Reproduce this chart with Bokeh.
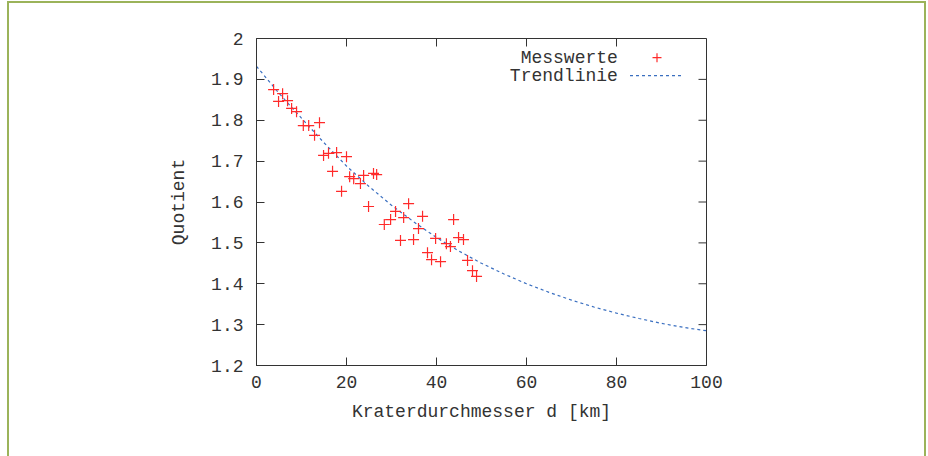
import re
from bokeh.plotting import figure
from bokeh.models import (ColumnDataSource, FixedTicker, Label,
                          CustomJSTickFormatter, Range1d, InlineStyleSheet)
from bokeh.embed import file_html
from bokeh.resources import INLINE

# ---- data ----
durchmesser = [3.8, 5.8, 4.9, 6.9, 7.8, 8.9, 10.4, 11.6, 14.0, 12.9,
               14.9, 16.0, 17.8, 20.0, 16.9, 20.7, 21.6, 23.8, 26.0, 26.7,
               23.1, 18.9, 24.9, 28.4, 29.8, 30.9, 32.7, 33.8, 36.0, 36.9,
               34.9, 32.0, 38.0, 38.9, 40.9, 39.8, 42.2, 43.1, 43.8, 44.9,
               46.0, 46.9, 48.0, 48.9]
quotient = [1.875, 1.865, 1.846, 1.848, 1.829, 1.821, 1.787, 1.787, 1.794, 1.763,
            1.714, 1.719, 1.721, 1.711, 1.675, 1.662, 1.657, 1.665, 1.670, 1.667,
            1.645, 1.626, 1.589, 1.545, 1.557, 1.577, 1.562, 1.596, 1.535, 1.565,
            1.508, 1.506, 1.476, 1.459, 1.454, 1.511, 1.498, 1.491, 1.557, 1.513,
            1.508, 1.457, 1.432, 1.418]

trend_d = [0, 5, 10, 15, 20, 25, 30, 35, 40, 45, 50,
           55, 60, 65, 70, 75, 80, 85, 90, 95, 100]
trend_q = [1.932, 1.866, 1.805, 1.745, 1.688, 1.638, 1.592, 1.551, 1.513, 1.480, 1.450,
           1.424, 1.400, 1.379, 1.360, 1.343, 1.328, 1.315, 1.303, 1.293, 1.285]

x_ticks = [0, 20, 40, 60, 80, 100]
y_ticks = [1.2, 1.3, 1.4, 1.5, 1.6, 1.7, 1.8, 1.9, 2.0]

series_names = ["Messwerte", "Trendlinie"]

FONT = "Liberation Mono"
FS = "18px"
TXT = "#333333"
RED = "#ff2a2a"
BLUE = "#3a6fc0"
AX = "#333333"
GREEN = "#9bb35a"

X0, X1 = 0, 100
Y0, Y1 = 1.2, 2.0
FRAME_W, FRAME_H = 450, 327
TICK_PX = 8

frame_css = InlineStyleSheet(css=f"""
:host::after {{
  content: "";
  position: absolute;
  left: 7px; top: 1px;
  width: 915px; height: 480px;
  border: 2px solid {GREEN};
  pointer-events: none;
  box-sizing: content-box;
}}
""")

p = figure(width=928, height=456, output_backend="svg", toolbar_location=None,
           x_range=Range1d(X0, X1), y_range=Range1d(Y0, Y1),
           min_border_left=256, min_border_right=222,
           min_border_top=38, min_border_bottom=91,
           stylesheets=[frame_css])
p.xgrid.visible = False
p.ygrid.visible = False
p.outline_line_color = AX
p.outline_line_width = 1
p.background_fill_color = "white"
p.border_fill_color = "white"

fmt = CustomJSTickFormatter(code="return Number(tick.toFixed(1)).toString();")

def style_axis(ax):
    ax.axis_line_color = AX
    ax.major_tick_line_color = AX
    ax.major_tick_in = TICK_PX
    ax.major_tick_out = 0
    ax.minor_tick_line_color = None
    ax.major_label_text_font = FONT
    ax.major_label_text_font_size = FS
    ax.major_label_text_color = TXT
    ax.axis_label_text_font = FONT
    ax.axis_label_text_font_size = FS
    ax.axis_label_text_font_style = "normal"
    ax.axis_label_text_color = TXT

xa = p.xaxis[0]
xa.ticker = FixedTicker(ticks=x_ticks)
xa.axis_label = "Kraterdurchmesser d [km]"
style_axis(xa)
xa.major_label_standoff = 10
xa.axis_label_standoff = 11

ya = p.yaxis[0]
ya.ticker = FixedTicker(ticks=y_ticks)
ya.formatter = fmt
ya.axis_label = "Quotient"
style_axis(ya)
ya.major_label_standoff = 13
ya.axis_label_standoff = 19

# mirrored inward ticks on top and right border (gnuplot style)
dy = (Y1 - Y0) * TICK_PX / FRAME_H
dx = (X1 - X0) * TICK_PX / FRAME_W
p.segment(x0=x_ticks, y0=[Y1] * len(x_ticks), x1=x_ticks, y1=[Y1 - dy] * len(x_ticks),
          line_color=AX, line_width=1)
p.segment(x0=[X1] * len(y_ticks), y0=y_ticks, x1=[X1 - dx] * len(y_ticks), y1=y_ticks,
          line_color=AX, line_width=1)

pts = ColumnDataSource(dict(d=durchmesser, q=quotient))
trend = ColumnDataSource(dict(d=trend_d, q=trend_q))

p.line("d", "q", source=trend, line_color=BLUE, line_width=1.2, line_dash="3 3")
p.scatter("d", "q", source=pts, marker="cross", size=11,
          line_color=RED, line_width=1.2)

# legend (gnuplot style: text left, sample right)
LEG_TEXT_X = 80.3
LEG_Y1 = 1.953
LEG_Y2 = 1.909
p.add_layout(Label(x=LEG_TEXT_X, y=LEG_Y1, text=series_names[0], text_align="right",
                   text_baseline="middle", text_font=FONT, text_font_size=FS,
                   text_color=TXT))
p.add_layout(Label(x=LEG_TEXT_X, y=LEG_Y2, text=series_names[1], text_align="right",
                   text_baseline="middle", text_font=FONT, text_font_size=FS,
                   text_color=TXT))
leg_pt = ColumnDataSource(dict(d=[89.0], q=[LEG_Y1]))
p.scatter("d", "q", source=leg_pt, marker="cross", size=9, line_color=RED, line_width=1.2)
leg_ln = ColumnDataSource(dict(d=[83.0, 94.5], q=[LEG_Y2, LEG_Y2]))
p.line("d", "q", source=leg_ln, line_color=BLUE, line_width=1.2, line_dash="3 3")

html = file_html(p, INLINE)
frame_div = ('<div style="position:fixed;left:7px;top:1px;width:915px;height:480px;'
             f'border:2px solid {GREEN};pointer-events:none;z-index:1000"></div>')
html = re.sub(r"<body[^>]*>", lambda m: '<body style="margin:0">' + frame_div, html, count=1)
open("out.html", "w").write(html)
